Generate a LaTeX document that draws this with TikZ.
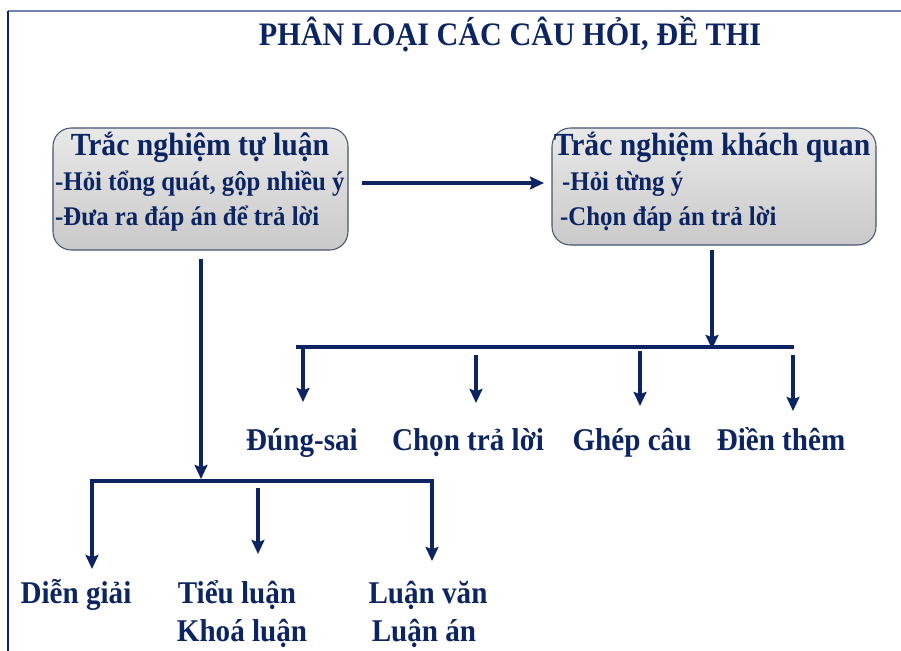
\documentclass[tikz,border=0pt]{standalone}
\usepackage{fontspec}
\setmainfont[FakeStretch=0.92]{Liberation Serif}
\usetikzlibrary{arrows.meta}

\definecolor{ink}{RGB}{12,36,97}
\definecolor{rim}{RGB}{70,84,112}
\definecolor{topline}{RGB}{110,130,170}

\tikzset{
  heading/.style={text=ink, font=\bfseries\fontsize{28}{32}\selectfont, inner sep=0pt},
  boxtitle/.style={text=ink, font=\bfseries\fontsize{27.5}{32}\selectfont, inner sep=0pt},
  boxline/.style={text=ink, font=\bfseries\fontsize{23}{26}\selectfont, inner sep=0pt, anchor=base west},
  leaf/.style={text=ink, font=\bfseries\fontsize{27}{30}\selectfont, inner sep=0pt, anchor=base},
  panel/.style={draw=rim, line width=0.9pt, rounded corners=0.55cm,
    top color=gray!18, bottom color=gray!42, inner sep=0pt},
  link/.style={draw=ink, line width=3pt, -{Stealth[length=12pt, width=11pt, inset=2pt]}},
  bar/.style={draw=ink, line width=3pt}
}

\begin{document}
\begin{tikzpicture}[x=0.03cm, y=-0.03cm]
  \useasboundingbox (0,0) rectangle (901,651);
  % frame
  \draw[topline, line width=2.2pt] (8,11) -- (901,11);
  \draw[ink, line width=1.4pt] (8,11) -- (8,651);

  \node[heading] (title) at (510,34) {PHÂN LOẠI CÁC CÂU HỎI, ĐỀ THI};

  % the two kinds
  \node[panel, minimum width=8.85cm, minimum height=3.66cm] (tl) at (200.5,189) {};
  \node[panel, minimum width=9.72cm, minimum height=3.51cm] (kq) at (714,186.5) {};

  \node[boxtitle] (tl1) at (200,147) {Trắc nghiệm tự luận};
  \node[boxline] (tl2) at (55,191) {-Hỏi tổng quát, gộp nhiều ý};
  \node[boxline] (tl3) at (55,225) {-Đưa ra đáp án để trả lời};

  \node[boxtitle] (kq1) at (712,147) {Trắc nghiệm khách quan};
  \node[boxline] (kq2) at (562,191) {-Hỏi từng ý};
  \node[boxline] (kq3) at (560,225) {-Chọn đáp án trả lời};

  \coordinate (a1) at (362,183);
  \coordinate (a2) at (544,183);
  \draw[link] (a1) -- (a2);

  % objective tests
  \coordinate (kqd) at (712,349);
  \draw[link] (kq.south -| kqd) ++(0,4) -- (kqd);
  \coordinate (rbl) at (296,347);
  \coordinate (rbr) at (794,347);
  \draw[bar] (rbl) -- (rbr);

  \node[leaf] (ds) at (302,450) {Đúng-sai};
  \node[leaf] (ct) at (468,450) {Chọn trả lời};
  \node[leaf] (gc) at (632,450) {Ghép câu};
  \node[leaf] (dt) at (781,450) {Điền thêm};

  \coordinate (ds0) at (303,347);  \coordinate (ds1) at (303,402);
  \coordinate (ct0) at (476,355);  \coordinate (ct1) at (476,403);
  \coordinate (gc0) at (640,351);  \coordinate (gc1) at (640,406);
  \coordinate (dt0) at (793,355);  \coordinate (dt1) at (793,411);
  \draw[link] (ds0) -- (ds1);
  \draw[link] (ct0) -- (ct1);
  \draw[link] (gc0) -- (gc1);
  \draw[link] (dt0) -- (dt1);

  % essay tests
  \coordinate (tld) at (201,479);
  \draw[link] (tl.south -| tld) ++(0,8) -- (tld);
  \coordinate (lbl) at (92,481);
  \coordinate (lbr) at (432,481);
  \draw[bar] (lbl |- 0,560) -- (lbl) -- (lbr) -- (lbr |- 0,553);
  \draw[link] (92,558) -- (92,569);
  \draw[link] (432,551) -- (432,561);

  \node[leaf] (dg) at (76,603) {Diễn giải};
  \node[leaf] (tu) at (237,603) {Tiểu luận};
  \node[leaf] (kl) at (242,641) {Khoá luận};
  \node[leaf] (lv) at (428,603) {Luận văn};
  \node[leaf] (la) at (424,641) {Luận án};

  \coordinate (tu0) at (258,488);  \coordinate (tu1) at (258,554);
  \draw[link] (tu0) -- (tu1);
\end{tikzpicture}
\end{document}
